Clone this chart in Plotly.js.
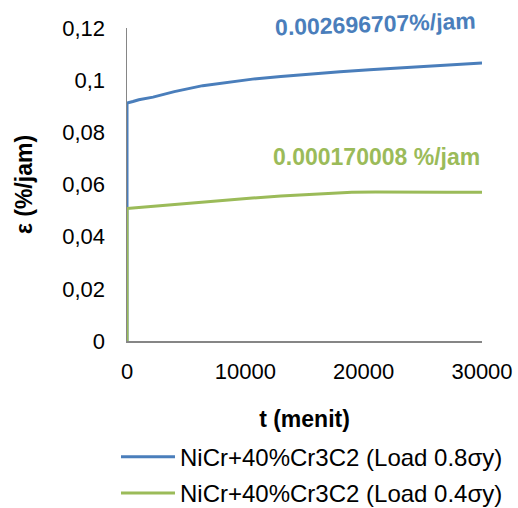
<!DOCTYPE html>
<html>
<head>
<meta charset="utf-8">
<script src="https://cdn.plot.ly/plotly-3.0.1.min.js"></script>
<style>html,body{margin:0;padding:0;background:#fff;}#chart{width:518px;height:508px;}</style>
</head>
<body>
<div id="chart"></div>
<script>
var seriesNames = ["NiCr+40%Cr3C2 (Load 0.8σy)", "NiCr+40%Cr3C2 (Load 0.4σy)"];
var blueT = [0, 0, 500, 1000, 2200, 4000, 6400, 8500, 10600, 13000, 15500, 18000, 20500, 23000, 26000, 28000, 30000];
var blueY = [0, 0.0912, 0.0918, 0.0925, 0.0935, 0.0956, 0.0979, 0.0992, 0.1004, 0.1014, 0.1024, 0.1032, 0.1040, 0.1047, 0.1055, 0.1060, 0.1066];
var greenT = [0, 0, 1000, 3000, 5000, 7500, 10600, 13000, 15500, 17500, 19000, 21000, 23000, 25000, 27000, 30000];
var greenY = [0, 0.0508, 0.0512, 0.0520, 0.0528, 0.0537, 0.0548, 0.0556, 0.0563, 0.0568, 0.0570, 0.0571, 0.0570, 0.0571, 0.0570, 0.0570];
var rateLabels = ["0.002696707%/jam", "0.000170008 %/jam"];
var yTickVals = [0, 0.02, 0.04, 0.06, 0.08, 0.1, 0.12];
var xTickVals = [0, 10000, 20000, 30000];

var FONT = "Liberation Sans, Arial, sans-serif";
var traces = [
  {x: blueT, y: blueY, mode: "lines", name: seriesNames[0], legendgroup: "a",
   line: {color: "#4A7EBB", width: 3}},
  {x: greenT, y: greenY, mode: "lines", name: seriesNames[1], legendgroup: "b",
   line: {color: "#9BBB59", width: 3}}
];
var layout = {
  width: 518, height: 508,
  margin: {l: 127, r: 36, t: 28, b: 167, autoexpand: false},
  paper_bgcolor: "#fff", plot_bgcolor: "#fff",
  separators: ",",
  font: {family: FONT, size: 22, color: "#000"},
  showlegend: true,
  xaxis: {
    range: [0, 30000], tickvals: xTickVals, showgrid: false, zeroline: false,
    showline: true, linecolor: "#868686", linewidth: 1.5,
    ticks: "", ticklabelstandoff: 10, exponentformat: "none",
    tickfont: {size: 22}, automargin: false,
    title: {text: "<b>t (menit)</b>", font: {size: 23}, standoff: 28}
  },
  yaxis: {
    range: [0, 0.12], tickvals: yTickVals, showgrid: false, zeroline: false,
    showline: true, linecolor: "#868686", linewidth: 1.5,
    ticks: "", ticklabelstandoff: 16, automargin: false,
    tickfont: {size: 22},
    title: {text: "<b>ε (%/jam)</b>", font: {size: 23}, standoff: 23}
  },
  legend: {
    x: -0.031, y: -0.299, xanchor: "left", yanchor: "top",
    font: {size: 24}, tracegroupgap: 2, itemwidth: 54, bgcolor: "rgba(0,0,0,0)"
  },
  annotations: [
    {x: 0.70, y: 1.013, xref: "paper", yref: "paper", xanchor: "center", yanchor: "middle",
     text: "<b>" + rateLabels[0] + "</b>",
     showarrow: false, font: {size: 23, color: "#4A7EBB"}, textangle: -2},
    {x: 0.704, y: 0.588, xref: "paper", yref: "paper", xanchor: "center", yanchor: "middle",
     text: "<b>" + rateLabels[1] + "</b>",
     showarrow: false, font: {size: 23, color: "#9BBB59"}}
  ]
};
Plotly.newPlot("chart", traces, layout, {displayModeBar: false, staticPlot: true});
</script>
</body>
</html>
